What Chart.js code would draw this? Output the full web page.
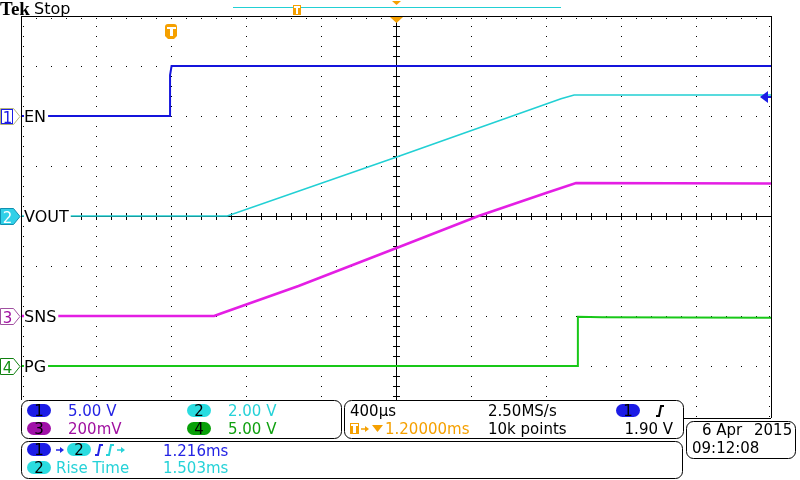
<!DOCTYPE html>
<html lang="en">
<head>
<meta charset="UTF-8">
<title>Tek capture - EN / VOUT / SNS / PG</title>
<script src="https://cdn.jsdelivr.net/npm/chart.js"></script>
<style>
  body { margin: 0; background: #fff; }
  canvas { display: block; }
</style>
</head>
<body>
<canvas id="scope" width="800" height="480"></canvas>
<script>
// time in ms, 0 = trigger point (trigger sits 1.2ms left of centre)
const timeRange = [-0.8, 3.2];
const msPerDiv = 0.4;

const channelNames = ['EN', 'VOUT', 'SNS', 'PG'];
const voltsPerDiv = [5, 2, 0.2, 5];
const groundDiv = [2, 0, -2, -3];
const scaleLabels = ['5.00 V', '2.00 V', '200mV', '5.00 V'];
const triggerLevel = 1.9;

const enTime = [-0.8, -0.005, -0.005, 0.003, 3.2];
const enVolts = [0, 0, 4.1, 5.0, 5.0];

const voutTime = [-0.8, 0.30, 1.2, 2.08, 2.15, 3.2];
const voutVolts = [0, 0, 2.35, 4.69, 4.84, 4.84];

const snsTime = [-0.8, 0.23, 0.27, 0.68, 1.22, 1.64, 2.0, 2.16, 3.2];
const snsVolts = [0, 0, 0.011, 0.12, 0.277, 0.40, 0.492, 0.532, 0.53];

const pgTime = [-0.8, 2.17, 2.17, 2.3, 3.2];
const pgVolts = [0, 0, 4.92, 4.88, 4.82];

const traceColors = ['#1414dc', '#22d0d4', '#e41ee4', '#18c818'];
const textColors = ['#2424e4', '#26d2d8', '#a010a0', '#10a010'];
const pillColors = ['#1c1ce6', '#2adce0', '#a010a8', '#08a008'];
const orange = '#f5a000';

function toDiv(ch, v) { return groundDiv[ch] + v / voltsPerDiv[ch]; }
function series(ch, t, v) { return t.map((tt, i) => ({ x: tt, y: toDiv(ch, v[i]) })); }

const FONT = '15px "DejaVu Sans"';

const graticule = {
  id: 'graticule',
  beforeDatasetsDraw(chart) {
    const { ctx, chartArea: a, scales: { x, y } } = chart;
    const L = Math.round(a.left), R = Math.round(a.right), T = Math.round(a.top), B = Math.round(a.bottom);
    const xs = [], ys = [];
    for (let i = 0; i <= 50; i++) xs.push(Math.round(x.getPixelForValue(timeRange[0] + i * msPerDiv / 5)));
    for (let i = 0; i <= 40; i++) ys.push(Math.round(y.getPixelForValue(-4 + i * 0.2)));
    ctx.save();
    ctx.fillStyle = '#000';
    for (let d = -3; d <= 3; d++) {
      if (d === 0) continue;
      const py = Math.round(y.getPixelForValue(d));
      xs.forEach(px => ctx.fillRect(px, py, 1, 1));
    }
    for (let k = 1; k < 10; k++) {
      if (k === 5) continue;
      const px = Math.round(x.getPixelForValue(timeRange[0] + k * msPerDiv));
      ys.forEach(py => ctx.fillRect(px, py, 1, 1));
    }
    const cx = Math.round(x.getPixelForValue(timeRange[0] + 5 * msPerDiv));
    const cy = Math.round(y.getPixelForValue(0));
    ctx.fillRect(L, cy, R - L, 1);
    ctx.fillRect(cx, T, 1, B - T);
    xs.forEach(px => ctx.fillRect(px, cy - 3, 1, 7));
    ys.forEach(py => ctx.fillRect(cx - 3, py, 7, 1));
    xs.forEach(px => ctx.fillRect(px, T + 2, 1, 1));
    ys.forEach(py => { ctx.fillRect(L + 2, py, 1, 1); ctx.fillRect(R - 2, py, 1, 1); });
    ctx.restore();
  }
};

function pill(ctx, x, y, color, num) {
  ctx.fillStyle = color;
  ctx.beginPath(); ctx.roundRect(x, y, 24, 13, 6.5); ctx.fill();
  ctx.fillStyle = '#000'; ctx.textAlign = 'center';
  ctx.fillText(num, x + 12, y + 12);
  ctx.textAlign = 'left';
}
function panel(ctx, x0, y0, x1, y1) {
  ctx.fillStyle = '#fff'; ctx.strokeStyle = '#000'; ctx.lineWidth = 1;
  ctx.beginPath(); ctx.roundRect(x0 + 0.5, y0 + 0.5, x1 - x0, y1 - y0, 7); ctx.fill(); ctx.stroke();
}
function edge(ctx, x, y, color) {
  ctx.strokeStyle = color; ctx.lineWidth = 2;
  ctx.beginPath(); ctx.moveTo(x, y + 10); ctx.lineTo(x + 3, y + 10); ctx.lineTo(x + 5, y); ctx.lineTo(x + 8, y); ctx.stroke();
}
function arrow(ctx, x, y, color) {
  ctx.strokeStyle = color; ctx.fillStyle = color; ctx.lineWidth = 1.5;
  ctx.beginPath(); ctx.moveTo(x, y); ctx.lineTo(x + 5, y); ctx.stroke();
  ctx.beginPath(); ctx.moveTo(x + 8, y); ctx.lineTo(x + 4, y - 3); ctx.lineTo(x + 4, y + 3); ctx.closePath(); ctx.fill();
}

const overlay = {
  id: 'overlay',
  afterDatasetsDraw(chart) {
    const { ctx, chartArea: a, scales: { x, y } } = chart;
    const L = Math.round(a.left), R = Math.round(a.right), T = Math.round(a.top);
    ctx.save();
    // frame
    ctx.fillStyle = '#000';
    ctx.fillRect(L, T, R - L + 1, 1);
    ctx.fillRect(L, T, 1, 400 - T);
    ctx.fillRect(R, T, 1, 418 - T);
    ctx.fillRect(683, 418, R - 683, 1);

    // channel labels and ground markers
    ctx.font = '16px "DejaVu Sans"';
    channelNames.forEach((name, ch) => {
      const gy = Math.round(y.getPixelForValue(groundDiv[ch]));
      const w = ctx.measureText(name).width;
      ctx.fillStyle = '#fff';
      ctx.fillRect(L + 3, gy - 9, w + 2, 18);
      ctx.fillStyle = '#000';
      ctx.fillText(name, L + 3, gy + 6);
    });
    const markStroke = ['#b4b478', '#1090b0', '#a050a0', '#108010'];
    const markFill = ['#fff', '#30d0e8', '#fff', '#fff'];
    const markText = ['#1c1ce6', '#fff', '#a010a0', '#109010'];
    ctx.font = FONT;
    channelNames.forEach((name, ch) => {
      const gy = Math.round(y.getPixelForValue(groundDiv[ch])) + 0.5;
      ctx.beginPath();
      ctx.moveTo(0.5, gy - 8); ctx.lineTo(13.5, gy - 8); ctx.lineTo(20, gy);
      ctx.lineTo(13.5, gy + 8); ctx.lineTo(0.5, gy + 8); ctx.closePath();
      ctx.fillStyle = markFill[ch]; ctx.fill();
      ctx.strokeStyle = markStroke[ch]; ctx.lineWidth = 1; ctx.stroke();
      if (ch === 0) { ctx.strokeStyle = '#1c1ce6'; ctx.strokeRect(1.5, gy - 7, 11, 14); }
      ctx.fillStyle = markText[ch]; ctx.textAlign = 'center';
      ctx.fillText(String(ch + 1), 7.5, gy + 6);
      ctx.textAlign = 'left';
    });

    // trigger marker on the waveform
    const tx = Math.round(x.getPixelForValue(0));
    ctx.fillStyle = orange;
    ctx.beginPath();
    ctx.moveTo(tx - 6, 36); ctx.lineTo(tx - 6, 27); ctx.quadraticCurveTo(tx - 6, 24, tx - 3, 24);
    ctx.lineTo(tx + 3, 24); ctx.quadraticCurveTo(tx + 6, 24, tx + 6, 27); ctx.lineTo(tx + 6, 36);
    ctx.lineTo(tx + 3, 39); ctx.lineTo(tx - 3, 39); ctx.closePath(); ctx.fill();
    ctx.fillStyle = '#fff';
    ctx.fillRect(tx - 4, 27, 9, 2); ctx.fillRect(tx - 1, 29, 3, 7);

    // trigger level arrow (ch1)
    const ly = Math.round(y.getPixelForValue(toDiv(0, triggerLevel)));
    ctx.fillStyle = '#1c1ce6';
    ctx.beginPath(); ctx.moveTo(R - 11, ly); ctx.lineTo(R - 3, ly - 6); ctx.lineTo(R - 3, ly + 6); ctx.closePath(); ctx.fill();
    ctx.fillRect(R - 5, ly - 1, 5, 2);

    // centre / record markers at the top
    const cx = Math.round(x.getPixelForValue(timeRange[0] + 5 * msPerDiv));
    ctx.fillStyle = orange;
    ctx.beginPath(); ctx.moveTo(cx - 6, T + 1); ctx.lineTo(cx + 7, T + 1); ctx.lineTo(cx + 0.5, T + 7); ctx.closePath(); ctx.fill();
    ctx.beginPath(); ctx.moveTo(cx - 4, 1); ctx.lineTo(cx + 5, 1); ctx.lineTo(cx + 0.5, 5); ctx.closePath(); ctx.fill();
    ctx.fillStyle = '#22d0d4';
    ctx.fillRect(233, 7, 328, 1);
    ctx.fillStyle = orange;
    ctx.fillRect(293, 5, 8, 10);
    ctx.fillStyle = '#fff';
    ctx.fillRect(294, 6, 6, 2); ctx.fillRect(296, 8, 2, 6);

    ctx.restore();
  },
  afterDraw(chart) {
    const ctx = chart.ctx;
    ctx.save();
    ctx.textBaseline = 'alphabetic';
    // header
    ctx.fillStyle = '#000';
    ctx.font = 'bold 19px "Liberation Serif"';
    ctx.fillText('Tek', 0, 15);
    ctx.font = '16px "DejaVu Sans"';
    ctx.fillText('Stop', 34, 14);

    // bottom panels
    panel(ctx, 21, 400, 341, 438);
    panel(ctx, 344, 400, 683, 438);
    panel(ctx, 21, 441, 682, 478);
    panel(ctx, 686, 421, 795, 458);
    ctx.font = FONT;

    pill(ctx, 27, 404, pillColors[0], '1');
    pill(ctx, 187, 404, pillColors[1], '2');
    pill(ctx, 27, 422, pillColors[2], '3');
    pill(ctx, 187, 422, pillColors[3], '4');
    ctx.fillStyle = textColors[0]; ctx.fillText(scaleLabels[0], 68, 416);
    ctx.fillStyle = textColors[1]; ctx.fillText(scaleLabels[1], 228, 416);
    ctx.fillStyle = textColors[2]; ctx.fillText(scaleLabels[2], 68, 434);
    ctx.fillStyle = textColors[3]; ctx.fillText(scaleLabels[3], 228, 434);

    // timebase panel
    ctx.fillStyle = '#000';
    ctx.fillText('400\u00b5s', 350, 416);
    ctx.fillText('2.50MS/s', 488, 416);
    ctx.fillText('10k points', 488, 434);
    ctx.textAlign = 'right';
    ctx.fillText(triggerLevel.toFixed(2) + ' V', 673, 434);
    ctx.textAlign = 'left';
    pill(ctx, 616, 404, pillColors[0], '1');
    edge(ctx, 656, 406, '#000');
    ctx.fillStyle = orange;
    ctx.fillRect(350, 423, 9, 11);
    ctx.fillStyle = '#fff';
    ctx.fillRect(351, 424, 7, 2); ctx.fillRect(353, 426, 3, 7);
    arrow(ctx, 361, 429, orange);
    ctx.beginPath(); ctx.moveTo(372, 425); ctx.lineTo(383, 425); ctx.lineTo(377.5, 432); ctx.closePath(); ctx.fill();
    ctx.fillText('1.20000ms', 385, 434);

    // measurements
    pill(ctx, 27, 443, pillColors[0], '1');
    arrow(ctx, 56, 450, textColors[0]);
    pill(ctx, 67, 443, pillColors[1], '2');
    edge(ctx, 95, 445, textColors[0]);
    edge(ctx, 106, 445, textColors[1]);
    arrow(ctx, 117, 450, textColors[1]);
    ctx.fillStyle = textColors[0]; ctx.fillText('1.216ms', 163, 456);
    pill(ctx, 27, 461, pillColors[1], '2');
    ctx.fillStyle = textColors[1];
    ctx.fillText('Rise Time', 56, 473);
    ctx.fillText('1.503ms', 163, 473);

    // date
    ctx.fillStyle = '#000';
    ctx.fillText('6 Apr', 702, 435);
    ctx.fillText('2015', 754, 435);
    ctx.fillText('09:12:08', 692, 453);
    ctx.restore();
  }
};

const datasets = [
  { label: channelNames[3], data: series(3, pgTime, pgVolts), borderColor: traceColors[3], borderWidth: 2 },
  { label: channelNames[2], data: series(2, snsTime, snsVolts), borderColor: traceColors[2], borderWidth: 2.5 },
  { label: channelNames[1], data: series(1, voutTime, voutVolts), borderColor: traceColors[1], borderWidth: 1.6 },
  { label: channelNames[0], data: series(0, enTime, enVolts), borderColor: traceColors[0], borderWidth: 2 }
];

new Chart(document.getElementById('scope'), {
  type: 'line',
  data: { datasets: datasets },
  options: {
    responsive: false,
    animation: false,
    layout: { padding: { left: 21, top: 16, right: 29, bottom: 64 } },
    elements: { point: { radius: 0 }, line: { tension: 0 } },
    plugins: { legend: { display: false }, tooltip: { enabled: false } },
    scales: {
      x: { type: 'linear', min: timeRange[0], max: timeRange[1], display: false },
      y: { type: 'linear', min: -4, max: 4, display: false }
    }
  },
  plugins: [graticule, overlay]
});
</script>
</body>
</html>
